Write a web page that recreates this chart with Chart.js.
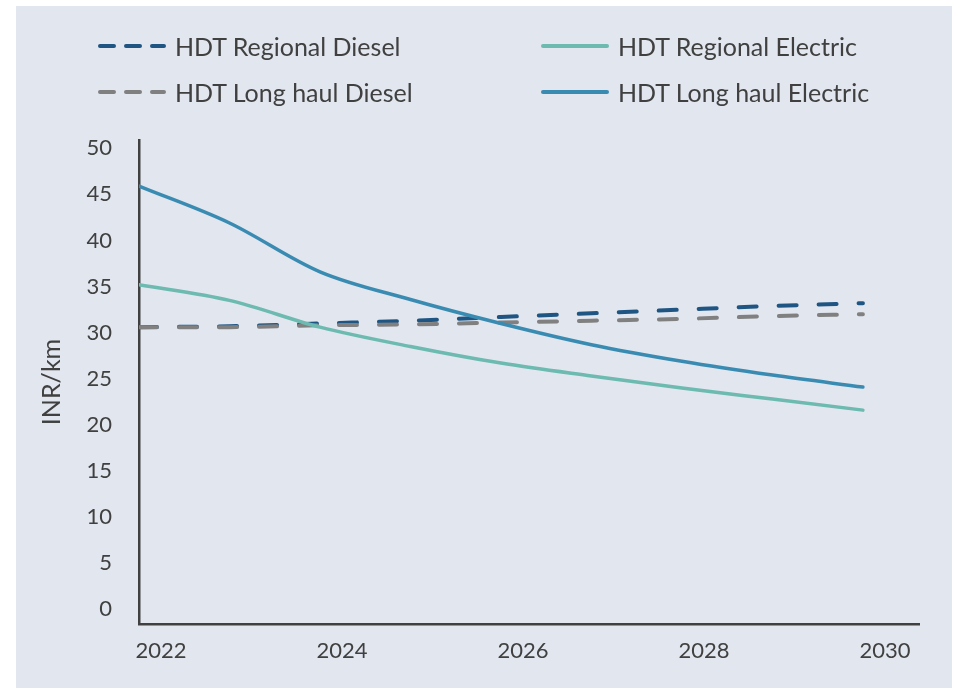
<!DOCTYPE html>
<html>
<head>
<meta charset="utf-8">
<script src="https://cdn.jsdelivr.net/npm/chart.js@4/dist/chart.umd.min.js"></script>
<style>
  html, body { margin: 0; padding: 0; background: #ffffff; }
  body { width: 961px; height: 688px; position: relative; overflow: hidden; font-family: Lato, sans-serif; }
  #panel { position: absolute; left: 16px; top: 6px; width: 936px; height: 682px; background: #e1e6ef; }
  #chart { position: absolute; left: 0; top: 0; }
  .leg { position: absolute; display: flex; align-items: center; font-size: 25px; color: #404040; white-space: nowrap; }
  .leg svg { margin-right: 8px; }
</style>
</head>
<body>
<div id="panel"></div>
<canvas id="chart" width="961" height="688"></canvas>
<div id="legend"></div>
<script>
// values (INR/km)
const years = [2022, 2023, 2024, 2025, 2026, 2027, 2028, 2029, 2030];
const regionalDiesel = [30.6, 30.7, 31.0, 31.3, 31.7, 32.1, 32.5, 32.9, 33.2];
const longhaulDiesel = [30.6, 30.6, 30.8, 30.9, 31.1, 31.3, 31.5, 31.8, 32.0];
const regionalElectric = [35.2, 33.5, 30.6, 28.5, 26.7, 25.3, 24.0, 22.8, 21.6];
const longhaulElectric = [45.9, 41.9, 36.6, 33.6, 31.0, 28.7, 26.9, 25.4, 24.1];
const yTicks = [0, 5, 10, 15, 20, 25, 30, 35, 40, 45, 50];
const xTicks = [2022, 2024, 2026, 2028, 2030];

const TEXT = "#404040";
const pts = arr => years.map((x, i) => ({ x, y: arr[i] }));

// legend, two columns like the original
const legendItems = [
    { label: "HDT Regional Diesel", color: "#1f5582", dash: true, left: 97, top: 46 },
    { label: "HDT Regional Electric", color: "#6cbab0", dash: false, left: 540, top: 46 },
    { label: "HDT Long haul Diesel", color: "#808080", dash: true, left: 97, top: 92 },
    { label: "HDT Long haul Electric", color: "#3a8bb2", dash: false, left: 540, top: 92 }
];
const legend = document.getElementById("legend");
legendItems.forEach(it => {
    const d = document.createElement("div");
    d.className = "leg";
    d.style.left = it.left + "px";
    d.style.top = (it.top - 16) + "px";
    d.style.height = "32px";
    const dash = it.dash ? 'stroke-dasharray="14 12"' : "";
    d.innerHTML = `<svg width="70" height="10"><line x1="3" y1="5" x2="67" y2="5" stroke="${it.color}" stroke-width="4" stroke-linecap="round" ${dash}/></svg><span>${it.label}</span>`;
    legend.appendChild(d);
});

const lineDs = (label, data, color, dashed) => ({
    label,
    data: pts(data),
    borderColor: color,
    backgroundColor: color,
    borderWidth: dashed ? 4 : 3.5,
    borderDash: dashed ? [18, 22] : [],
    borderCapStyle: "round",
    pointRadius: 0,
    cubicInterpolationMode: "monotone",
    fill: false
});

new Chart(document.getElementById("chart"), {
    type: "line",
    data: {
        datasets: [
            lineDs("HDT Long haul Electric", longhaulElectric, "#3a8bb2", false),
            lineDs("HDT Regional Electric", regionalElectric, "#6cbab0", false),
            lineDs("HDT Long haul Diesel", longhaulDiesel, "#808080", true),
            lineDs("HDT Regional Diesel", regionalDiesel, "#1f5582", true)
        ]
    },
    options: {
        responsive: false,
        animation: false,
        layout: { padding: { left: 35, top: 140, right: 42, bottom: 0 } },
        plugins: { legend: { display: false }, tooltip: { enabled: false } },
        scales: {
            x: {
                type: "linear",
                min: 2022,
                max: 2030.62,
                afterBuildTicks: s => { s.ticks = xTicks.map(v => ({ value: v })); },
                afterFit: s => { s.height = 64; },
                grid: { display: false, drawTicks: false },
                border: { display: true, color: TEXT, width: 2.5 },
                ticks: {
                    padding: 14,
                    labelOffset: 22,
                    maxRotation: 0,
                    color: TEXT,
                    font: { family: "Lato", size: 22 },
                    callback: v => String(v)
                }
            },
            y: {
                min: -1.6,
                max: 50.9,
                afterBuildTicks: s => { s.ticks = yTicks.map(v => ({ value: v })); },
                afterFit: s => { s.width = 104; },
                grid: { display: false, drawTicks: false },
                border: { display: true, color: TEXT, width: 2.5 },
                ticks: { padding: 27, color: TEXT, font: { family: "Lato", size: 22 } },
                title: {
                    display: true,
                    text: "INR/km",
                    color: TEXT,
                    font: { family: "Lato", size: 25 },
                    padding: { top: 2, bottom: 0 }
                }
            }
        }
    }
});
</script>
</body>
</html>
